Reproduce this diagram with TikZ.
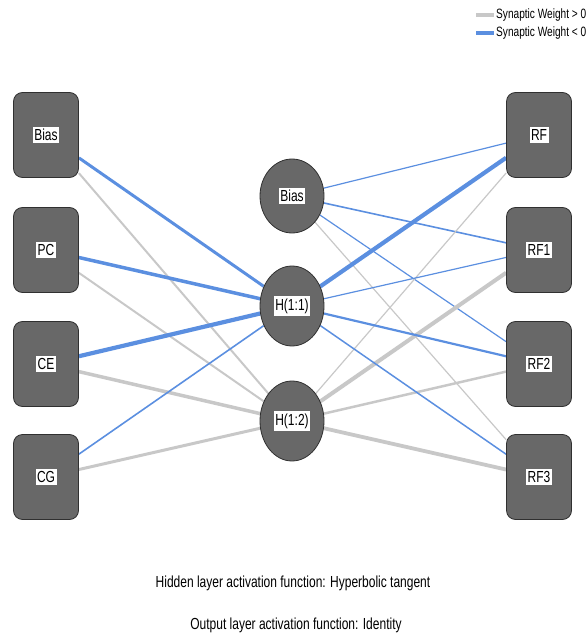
\documentclass[tikz,border=0pt]{standalone}
\usepackage{fontspec}
\setmainfont[FakeStretch=0.75]{Liberation Sans}
\usetikzlibrary{shapes.geometric,backgrounds}
\definecolor{pos}{HTML}{C8C8C8}
\definecolor{neg}{HTML}{5B8FE0}
\definecolor{nodefill}{HTML}{686868}
\definecolor{nodeline}{HTML}{303030}
\tikzset{
  lbl/.style={fill=white,inner xsep=1.5pt,inner ysep=2.5pt,font=\fontsize{16}{17}\selectfont},
  inbox/.style={draw=nodeline,fill=nodefill,rounded corners=9pt,minimum width=65pt,minimum height=85pt,line width=0.8pt},
  hid/.style={ellipse,draw=nodeline,fill=nodefill,minimum width=64pt,minimum height=80pt,line width=0.8pt},
  pw/.style={draw=pos,line width=#1},
  nw/.style={draw=neg,line width=#1},
  legtext/.style={anchor=west,inner sep=0pt,font=\fontsize{13.5}{14}\selectfont},
  captext/.style={font=\fontsize{16}{17}\selectfont},
}
\begin{document}
\begin{tikzpicture}[x=1pt,y=-1pt]
\useasboundingbox (0,0) rectangle (587,636);
% input layer
\node[inbox] (i0) at (46,135) {};
\node[inbox] (i1) at (46,250) {};
\node[inbox] (i2) at (46,364) {};
\node[inbox] (i3) at (46,477) {};
\node[lbl] at (i0) {Bias};
\node[lbl] at (i1) {PC};
\node[lbl] at (i2) {CE};
\node[lbl] at (i3) {CG};
% hidden
\node[hid,minimum height=74pt] (hb) at (292,196) {};
\node[hid] (h1) at (292,306) {};
\node[hid] (h2) at (292,421) {};
\node[lbl] at (hb) {Bias};
\node[lbl] at (h1) {H(1:1)};
\node[lbl] at (h2) {H(1:2)};
% output
\node[inbox] (o0) at (539,135) {};
\node[inbox] (o1) at (539,250) {};
\node[inbox] (o2) at (539,364) {};
\node[inbox] (o3) at (539,477) {};
\node[lbl] at (o0) {RF};
\node[lbl] at (o1) {RF1};
\node[lbl] at (o2) {RF2};
\node[lbl] at (o3) {RF3};
\begin{pgfonlayer}{background}
% input -> H(1:2)
\draw[pw=2pt] (i0) -- (h2);
\draw[pw=2pt] (i1) -- (h2);
\draw[pw=3.5pt] (i2) -- (h2);
\draw[pw=3pt] (i3) -- (h2);
% input -> H(1:1)
\draw[nw=3pt] (i0) -- (h1);
\draw[nw=3.5pt] (i1) -- (h1);
\draw[nw=4.2pt] (i2) -- (h1);
\draw[nw=1.6pt] (i3) -- (h1);
% hidden bias -> outputs
\draw[nw=1.2pt] (hb) -- (o0);
\draw[nw=1.6pt] (hb) -- (o1);
\draw[nw=1.2pt] (hb) -- (o2);
\draw[pw=1.2pt] (hb) -- (o3);
% H(1:2) -> outputs
\draw[pw=1.2pt] (h2) -- (o0);
\draw[pw=4pt] (h2) -- (o1);
\draw[pw=2.5pt] (h2) -- (o2);
\draw[pw=3.8pt] (h2) -- (o3);
% H(1:1) -> outputs
\draw[nw=4.2pt] (h1) -- (o0);
\draw[nw=1.2pt] (h1) -- (o1);
\draw[nw=2.2pt] (h1) -- (o2);
\draw[nw=1.5pt] (h1) -- (o3);
\end{pgfonlayer}
% legend
\coordinate (la) at (476,15);
\coordinate (lb) at (494,15);
\coordinate (lc) at (476,33);
\coordinate (ld) at (494,33);
\draw[pw=3.5pt] (la) -- (lb);
\draw[nw=3.5pt] (lc) -- (ld);
\node[legtext] (t1) at (496,15) {Synaptic Weight > 0};
\node[legtext] (t2) at (496,33) {Synaptic Weight < 0};
% captions
\node[captext] (c1) at (293,583) {Hidden layer activation function: Hyperbolic tangent};
\node[captext] (c2) at (296,625) {Output layer activation function: Identity};
\end{tikzpicture}
\end{document}
